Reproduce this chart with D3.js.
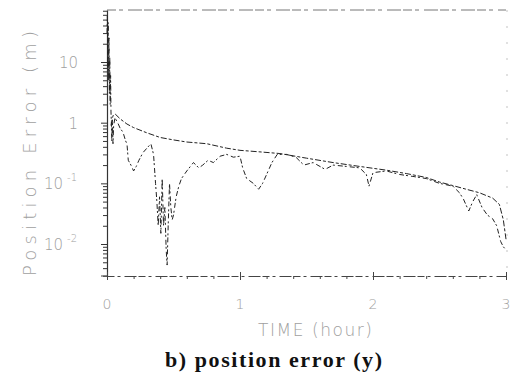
<!DOCTYPE html>
<html><head><meta charset="utf-8">
<script src="https://cdn.jsdelivr.net/npm/d3@7"></script>
<style>
html,body{margin:0;padding:0;background:#fff;}
svg{display:block;}
.lbl{font-family:"DejaVu Sans",sans-serif;font-weight:200;fill:#a0a0a0;}
.cap{font-family:"Liberation Serif","Times New Roman",serif;font-weight:bold;fill:#111;}
</style></head><body>
<svg id="c" width="510" height="378"></svg>
<script>
// ---- data ----
const xTickValues = [0, 1, 2, 3];
const xTickLabels = ["0", "1", "2", "3"];
const yTickValues = [10, 1, 0.1, 0.01];
const yTickBase = ["10", "1", "10", "10"];
const yTickExp = ["", "", "-1", "-2"];

// upper smooth curve (estimated error bound)
const boundTime = [0.03,0.045,0.06,0.1,0.15,0.2,0.3,0.4,0.5,0.6,0.75,0.9,1.0,1.15,1.3,1.5,1.7,1.9,2.1,2.25,2.4,2.5,2.6,2.7,2.8,2.9,2.95,2.98,3.0];
const boundValue = [0.9,1.3,1.4,1.15,0.95,0.83,0.68,0.57,0.52,0.48,0.45,0.38,0.35,0.33,0.31,0.26,0.22,0.19,0.165,0.145,0.125,0.105,0.092,0.08,0.07,0.057,0.045,0.025,0.012];

// actual position error (noisy)
const errTime = [0.000,0.003,0.006,0.009,0.012,0.015,0.018,0.021,0.024,0.027,0.030,0.033,0.036,0.040,0.045,0.050,0.060,0.080,0.100,0.120,0.140,0.150,0.160,0.180,0.200,0.220,0.240,0.270,0.300,0.330,0.350,0.365,0.375,0.385,0.395,0.405,0.415,0.425,0.435,0.445,0.452,0.460,0.470,0.480,0.490,0.500,0.520,0.540,0.560,0.600,0.650,0.690,0.720,0.760,0.800,0.850,0.900,0.950,1.000,1.020,1.050,1.100,1.140,1.170,1.200,1.240,1.280,1.350,1.420,1.480,1.550,1.640,1.700,1.800,1.900,1.950,1.970,2.000,2.100,2.200,2.300,2.400,2.500,2.600,2.650,2.680,2.720,2.750,2.780,2.820,2.860,2.900,2.930,2.960,2.980,3.000];
const errValue = [30,60,8,45,5,25,3,12,2,6,1.5,1.0,0.5,1.1,0.45,0.9,1.2,1.0,0.8,0.7,0.5,0.45,0.24,0.2,0.16,0.19,0.24,0.32,0.38,0.45,0.3,0.1,0.05,0.02,0.06,0.015,0.12,0.02,0.04,0.008,0.0045,0.02,0.1,0.04,0.025,0.03,0.06,0.09,0.12,0.16,0.22,0.18,0.2,0.24,0.22,0.28,0.3,0.27,0.28,0.18,0.12,0.1,0.08,0.1,0.14,0.22,0.3,0.3,0.27,0.2,0.22,0.17,0.2,0.19,0.18,0.14,0.09,0.15,0.16,0.14,0.13,0.12,0.1,0.09,0.07,0.055,0.035,0.05,0.065,0.04,0.03,0.026,0.02,0.011,0.009,0.008];

const svg = d3.select("#c");
const L = 107, R = 506, T = 10, B = 276;
const x = d3.scaleLinear().domain([0, 3]).range([L, R]);
const y = d3.scaleLog().domain([0.00297, 72]).range([B, T]);

// frame (top / right)
svg.append("line").attr("x1", L).attr("x2", R).attr("y1", T).attr("y2", T)
  .attr("stroke", "#666").attr("stroke-width", 0.9).attr("stroke-dasharray", "9,3,4,5,14,2");
svg.append("line").attr("x1", R + 1).attr("x2", R + 1).attr("y1", T).attr("y2", B)
  .attr("stroke", "#aaa").attr("stroke-width", 0.7).attr("stroke-dasharray", "2,14");

// left axis with log minor ticks
const minor = [];
for (let e = -3; e <= 1; e++) for (let m = 1; m <= 9; m++) {
  const v = m * Math.pow(10, e);
  if (v >= 0.00297 && v <= 72) minor.push(v);
}
const gy = svg.append("g").attr("transform", `translate(${L},0)`)
  .call(d3.axisLeft(y).tickValues(minor).tickSizeInner(4).tickSizeOuter(0).tickFormat(""));
gy.select(".domain").attr("stroke", "#333").attr("stroke-width", 1.2);
gy.selectAll(".tick line").attr("stroke", "#333").attr("stroke-width", 1)
  .attr("x2", d => (yTickValues.includes(d) ? -6 : -4));

// bottom axis
const xMinor = d3.range(0, 3.01, 0.2);
const gx = svg.append("g").attr("transform", `translate(0,${B})`)
  .call(d3.axisBottom(x).tickValues(xMinor).tickSizeInner(3).tickSizeOuter(0).tickFormat(""));
gx.select(".domain").attr("stroke", "#444").attr("stroke-width", 1).attr("stroke-dasharray", "7,3,3,4,12,2");
gx.selectAll(".tick line").attr("stroke", "#444")
  .attr("y1", d => (xTickValues.some(v => Math.abs(v - d) < 1e-6) ? -4 : 0))
  .attr("y2", d => (xTickValues.some(v => Math.abs(v - d) < 1e-6) ? 4 : 3));
svg.append("line").attr("x1", L - 6).attr("x2", L).attr("y1", B).attr("y2", B).attr("stroke", "#444");

// x tick labels
svg.selectAll(".xl").data(xTickValues).enter().append("text").attr("class", "lbl")
  .attr("x", d => x(d)).attr("y", 309).attr("text-anchor", "middle")
  .attr("font-size", 14).text((d, i) => xTickLabels[i]);

// y tick labels
yTickValues.forEach((v, i) => {
  const t = svg.append("text").attr("class", "lbl").attr("font-size", 15)
    .attr("y", y(v) + 6);
  if (yTickExp[i]) {
    t.attr("x", 44);
    t.append("tspan").text(yTickBase[i]);
    t.append("tspan").attr("font-size", 10).attr("dx", 4).attr("dy", -8).text(yTickExp[i]);
  } else {
    t.attr("x", 78).attr("text-anchor", "end").text(yTickBase[i]);
  }
});

// axis titles
svg.append("text").attr("class", "lbl").attr("font-size", 18)
  .attr("transform", "translate(36,276) rotate(-90)")
  .attr("textLength", 245).attr("lengthAdjust", "spacing")
  .text("Position Error (m)");
svg.append("text").attr("class", "lbl").attr("font-size", 17)
  .attr("x", 258).attr("y", 336)
  .attr("textLength", 114).attr("lengthAdjust", "spacing")
  .text("TIME (hour)");

// caption
svg.append("text").attr("class", "cap").attr("font-size", 22)
  .attr("x", 165).attr("y", 367)
  .attr("textLength", 217).attr("lengthAdjust", "spacing")
  .text("b) position error (y)");

// curves
const line = d3.line().x(d => x(d[0])).y(d => y(d[1]));
const boundData = boundTime.map((t, i) => [t, boundValue[i]]);
const errData = errTime.map((t, i) => [t, errValue[i]]);
svg.append("path").datum(boundData).attr("d", line).attr("fill", "none")
  .attr("stroke", "#222").attr("stroke-width", 1).attr("stroke-dasharray", "6,2,3,2");
svg.append("path").datum(errData).attr("d", line).attr("fill", "none")
  .attr("stroke", "#222").attr("stroke-width", 1).attr("stroke-dasharray", "5,2,2,3");
</script>
</body></html>
